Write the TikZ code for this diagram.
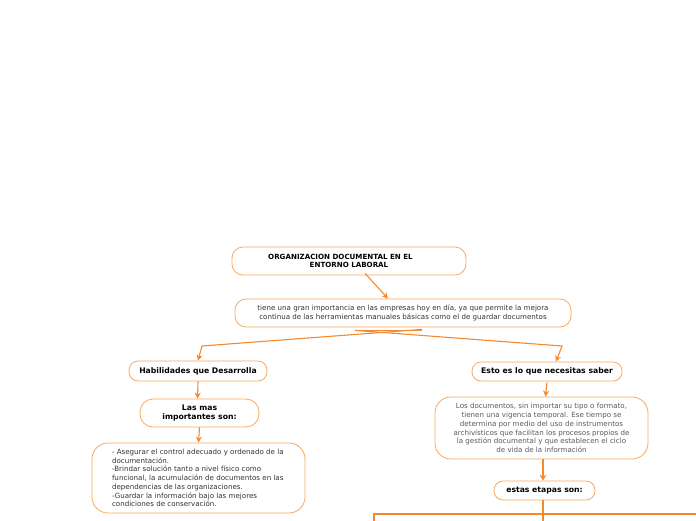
\documentclass[tikz,border=0pt]{standalone}
\usepackage{fontspec}
\setmainfont{DejaVu Sans}
\usetikzlibrary{calc,arrows.meta}
\definecolor{mmorange}{HTML}{F5892B}
\definecolor{mmborder}{HTML}{F8A85E}
\definecolor{mmtext}{HTML}{333333}
\definecolor{mmgray}{HTML}{5A5A5A}
\tikzset{
	box/.style={draw=mmborder, line width=0.8pt, rounded corners=11pt, fill=white, inner sep=0pt, align=center, font=\fontsize{7.1}{8.7}\selectfont, text=mmtext},
	headbox/.style={box, font=\fontsize{7.7}{8.9}\selectfont\bfseries, text=black},
	link/.style={draw=mmorange, line width=1.1pt},
	arr/.style={link, -{Stealth[length=6pt,width=6pt]}},
	thick link/.style={draw=mmorange, line width=2.4pt}
}

\begin{document}
\begin{tikzpicture}[x=1pt, y=-1pt]
		%%%%% START %%%%%
		\useasboundingbox (0, 0) rectangle (696, 520);
		\clip (0, 0) rectangle (696, 520);
		
		\node[headbox, minimum width=234pt, minimum height=28pt, font=\fontsize{7.1}{8.7}\selectfont\bfseries] (title) at (349, 261) {ORGANIZACION DOCUMENTAL EN EL\hspace*{17pt}\\ENTORNO LABORAL};
		\node[box, minimum width=336pt, minimum height=28pt] (info) at (403, 313) {tiene una gran importancia en las empresas hoy en día, ya que permite la mejora\\continua de las herramientas manuales básicas como el de guardar documentos};
		
		\node[headbox, minimum width=138pt, minimum height=20pt, rounded corners=9pt] (skills) at (198, 371) {Habilidades que Desarrolla};
		\node[headbox, minimum width=119pt, minimum height=28pt, rounded corners=13pt] (main) at (199.5, 413) {Las mas\\importantes son:};
		\node[box, minimum width=213pt, minimum height=70pt, rounded corners=16pt, align=left] (list) at (198.5, 478) {\hspace*{17pt}\parbox{190pt}{\raggedright - Asegurar el control adecuado y ordenado de la\\documentación.\\-Brindar solución tanto a nivel físico como\\funcional, la acumulación de documentos en las\\dependencias de las organizaciones.\\-Guardar la información bajo las mejores\\condiciones de conservación.}};
		
		\node[headbox, minimum width=150pt, minimum height=19pt, rounded corners=9pt] (know) at (547, 371.5) {Esto es lo que necesitas saber};
		\node[box, minimum width=213pt, minimum height=62pt, rounded corners=16pt, text=mmgray] (docs) at (541.5, 428) {Los documentos, sin importar su tipo o formato,\\tienen una vigencia temporal. Ese tiempo se\\determina por medio del uso de instrumentos\\archivísticos que facilitan los procesos propios de\\la gestión documental y que establecen el ciclo\\de vida de la información};
		\node[headbox, minimum width=101pt, minimum height=19pt, rounded corners=9pt] (stages) at (544.5, 490.5) {estas etapas son:};
		
		% connectors
		\draw[arr] ($(title.south)+(16, -2)$) -- ($(info.north)+(-15, 0)$);
		\draw[link] ($(info.south)+(-48, 3)$) -- ($(info.south)+(19, 3)$);
		\draw[arr] ($(info.south)+(19, 2)$) -- (202, 346) -- (skills.north);
		\draw[arr] ($(info.south)+(-48, 3)$) -- (562, 346) -- ($(know.north)+(9, 0)$);
		\draw[arr] ($(skills.south)+(0, 0)$) -- ($(main.north)+(-2, 0)$);
		\draw[arr] (main.south) -- (list.north);
		\draw[arr] ($(know.south)+(0, 1)$) -- ($(docs.north)+(4, 0)$);
		\draw[thick link, -{Stealth[length=6pt,width=7pt]}] ($(docs.south)+(1.5, 0)$) -- ($(stages.north)+(-1.5, 0)$);
		
		\coordinate (fork) at (543, 514);
		\draw[thick link] ($(stages.south)+(-1.5, 0)$) -- (543, 522);
		\draw[link, line width=1.8pt] (374, 522) -- (374, 514) -- (fork) -- (700, 514);
		
		%%%%% END %%%%%
	\end{tikzpicture}
\end{document}
